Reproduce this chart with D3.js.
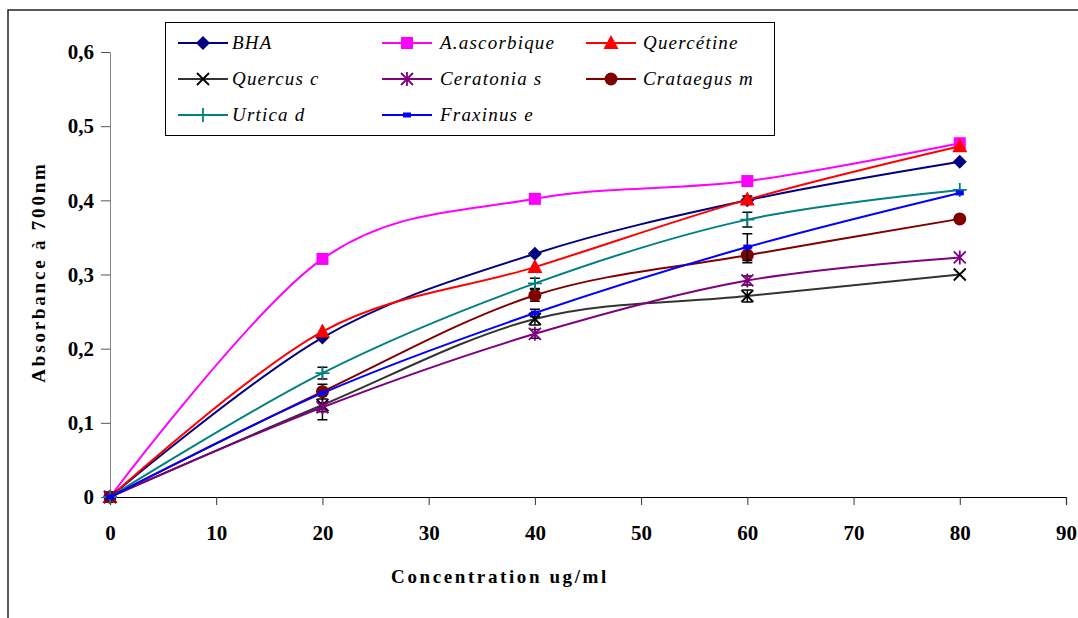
<!DOCTYPE html>
<html>
<head>
<meta charset="utf-8">
<script src="https://cdn.jsdelivr.net/npm/d3@7"></script>
<style>
  html, body { margin: 0; padding: 0; background: #fff; }
  svg { display: block; }
</style>
</head>
<body>
<svg id="chart" width="1078" height="618"></svg>
<script>
// ---- data ----
const concentrations = [0, 20, 40, 60, 80];
const seriesNames = ["BHA", "A.ascorbique", "Quercétine", "Quercus c", "Ceratonia s", "Crataegus m", "Urtica d", "Fraxinus e"];
const bhaValues        = [0, 0.215, 0.328, 0.400, 0.452];
const ascorbiqueValues = [0, 0.321, 0.402, 0.426, 0.477];
const quercetineValues = [0, 0.223, 0.310, 0.401, 0.473];
const quercusValues    = [0, 0.124, 0.240, 0.271, 0.300];
const ceratoniaValues  = [0, 0.121, 0.220, 0.292, 0.323];
const crataegusValues  = [0, 0.142, 0.272, 0.326, 0.375];
const urticaValues     = [0, 0.167, 0.288, 0.374, 0.414];
const fraxinusValues   = [0, 0.140, 0.248, 0.337, 0.410];
// error bar half-widths
const bhaErr        = [0, 0, 0, 0, 0];
const ascorbiqueErr = [0, 0.003, 0.003, 0.003, 0];
const quercetineErr = [0, 0, 0, 0.005, 0];
const quercusErr    = [0, 0.02, 0.008, 0.008, 0];
const ceratoniaErr  = [0, 0.006, 0.006, 0.006, 0];
const crataegusErr  = [0, 0.01, 0.008, 0.01, 0];
const urticaErr     = [0, 0.008, 0.007, 0.01, 0];
const fraxinusErr   = [0, 0, 0.005, 0.018, 0];
const xTicks = [0, 10, 20, 30, 40, 50, 60, 70, 80, 90];
const yTicks = [0, 0.1, 0.2, 0.3, 0.4, 0.5, 0.6];
const yTickLabels = ["0", "0,1", "0,2", "0,3", "0,4", "0,5", "0,6"];

const seriesValues = [bhaValues, ascorbiqueValues, quercetineValues, quercusValues, ceratoniaValues, crataegusValues, urticaValues, fraxinusValues];
const seriesErrors = [bhaErr, ascorbiqueErr, quercetineErr, quercusErr, ceratoniaErr, crataegusErr, urticaErr, fraxinusErr];
const lineColors = ["#000080", "#FF00FF", "#FF0000", "#333333", "#800080", "#800000", "#008080", "#0000FF"];
const markerTypes = ["diamond", "square", "triangle", "x", "asterisk", "circle", "plus", "dash"];

const series = seriesNames.map((name, i) => ({
  name, color: lineColors[i], marker: markerTypes[i],
  points: concentrations.map((c, j) => ({ x: c, y: seriesValues[i][j], e: seriesErrors[i][j] }))
}));

const serif = "Liberation Serif, Times New Roman, serif";

// ---- layout ----
const svg = d3.select("#chart");
const x = d3.scaleLinear().domain([0, 90]).range([110, 1066]);
const y = d3.scaleLinear().domain([0, 0.6]).range([497, 52]);

// outer frame (top + left edge visible)
svg.append("path").attr("d", "M8,618 L8,10 L1078,10")
  .attr("fill", "none").attr("stroke", "#222").attr("stroke-width", 1.5);

// axes
const xAxis = d3.axisBottom(x).tickValues(xTicks).tickSize(8).tickPadding(20).tickFormat(d3.format("d"));
const gx = svg.append("g").attr("transform", "translate(0,497)").call(xAxis);
gx.select(".domain").attr("stroke", "#000").attr("stroke-width", 1.2);
gx.selectAll(".tick line").attr("stroke", "#333");
gx.selectAll("text").attr("font-family", serif)
  .attr("font-weight", "bold").attr("font-size", 21).attr("fill", "#000");

const yAxis = d3.axisLeft(y).tickValues(yTicks).tickSize(9).tickPadding(7)
  .tickFormat((d, i) => yTickLabels[i]);
const gy = svg.append("g").attr("transform", "translate(110,0)").call(yAxis);
gy.select(".domain").attr("stroke", "#888").attr("stroke-width", 1);
gy.selectAll(".tick line").attr("stroke", "#555");
gy.selectAll("text").attr("font-family", serif)
  .attr("font-weight", "bold").attr("font-size", 21).attr("fill", "#000");

// axis titles
svg.append("text").attr("x", 500).attr("y", 583).attr("text-anchor", "middle")
  .attr("font-family", serif).attr("font-weight", "bold")
  .attr("font-size", 19).attr("letter-spacing", "2.6px").text("Concentration ug/ml");
svg.append("text").attr("transform", "translate(45,272) rotate(-90)").attr("text-anchor", "middle")
  .attr("font-family", serif).attr("font-weight", "bold")
  .attr("font-size", 19).attr("letter-spacing", "2.8px").text("Absorbance à 700nm");

// ---- markers ----
function drawMarker(g, type, cx, cy, color) {
  switch (type) {
    case "diamond":
      g.append("path").attr("d", `M${cx},${cy-7}L${cx+7},${cy}L${cx},${cy+7}L${cx-7},${cy}Z`).attr("fill", color); break;
    case "square":
      g.append("rect").attr("x", cx-6).attr("y", cy-6).attr("width", 12).attr("height", 12).attr("fill", color); break;
    case "triangle":
      g.append("path").attr("d", `M${cx},${cy-8}L${cx+7.5},${cy+6}L${cx-7.5},${cy+6}Z`).attr("fill", color); break;
    case "x":
      g.append("path").attr("d", `M${cx-6},${cy-6}L${cx+6},${cy+6}M${cx+6},${cy-6}L${cx-6},${cy+6}`)
        .attr("stroke", "#000").attr("stroke-width", 1.8).attr("fill", "none"); break;
    case "asterisk":
      g.append("path").attr("d", `M${cx-6},${cy-6}L${cx+6},${cy+6}M${cx+6},${cy-6}L${cx-6},${cy+6}M${cx},${cy-7}L${cx},${cy+7}`)
        .attr("stroke", color).attr("stroke-width", 1.8).attr("fill", "none"); break;
    case "circle":
      g.append("circle").attr("cx", cx).attr("cy", cy).attr("r", 6.5).attr("fill", color); break;
    case "plus":
      g.append("path").attr("d", `M${cx-7},${cy}L${cx+7},${cy}M${cx},${cy-7}L${cx},${cy+7}`)
        .attr("stroke", color).attr("stroke-width", 1.8).attr("fill", "none"); break;
    case "dash":
      g.append("rect").attr("x", cx-4).attr("y", cy-2.5).attr("width", 8).attr("height", 5).attr("fill", color); break;
  }
}

// ---- series ----
const line = d3.line().x(d => x(d.x)).y(d => y(d.y)).curve(d3.curveCardinal.tension(0));
series.forEach(s => {
  const g = svg.append("g");
  g.append("path").datum(s.points).attr("d", line)
    .attr("fill", "none").attr("stroke", s.color).attr("stroke-width", 2);
  s.points.filter(p => p.e > 0).forEach(p => {
    const px = x(p.x), y1 = y(p.y + p.e), y2 = y(p.y - p.e);
    g.append("path").attr("d", `M${px},${y1}L${px},${y2}M${px-5},${y1}L${px+5},${y1}M${px-5},${y2}L${px+5},${y2}`)
      .attr("stroke", "#000").attr("stroke-width", 1.5).attr("fill", "none");
  });
  s.points.forEach(p => drawMarker(g, s.marker, x(p.x), y(p.y), s.color));
});

// ---- legend ----
const legend = svg.append("g");
legend.append("rect").attr("x", 165.5).attr("y", 22.5).attr("width", 609).attr("height", 113)
  .attr("fill", "#fff").attr("stroke", "#000").attr("stroke-width", 1);
const colLineX = [178, 382, 586];
const colTextX = [232, 440, 643];
const rowY = [43, 79, 115];
series.forEach((s, i) => {
  const col = i % 3, row = Math.floor(i / 3);
  const lx = colLineX[col], ly = rowY[row];
  legend.append("line").attr("x1", lx).attr("x2", lx + 50).attr("y1", ly).attr("y2", ly)
    .attr("stroke", s.color).attr("stroke-width", 2);
  drawMarker(legend, s.marker, lx + 25, ly, s.color);
  legend.append("text").attr("x", colTextX[col]).attr("y", ly + 6)
    .attr("font-family", serif).attr("font-style", "italic")
    .attr("font-size", 19).attr("letter-spacing", "1.2px").text(s.name);
});
</script>
</body>
</html>
